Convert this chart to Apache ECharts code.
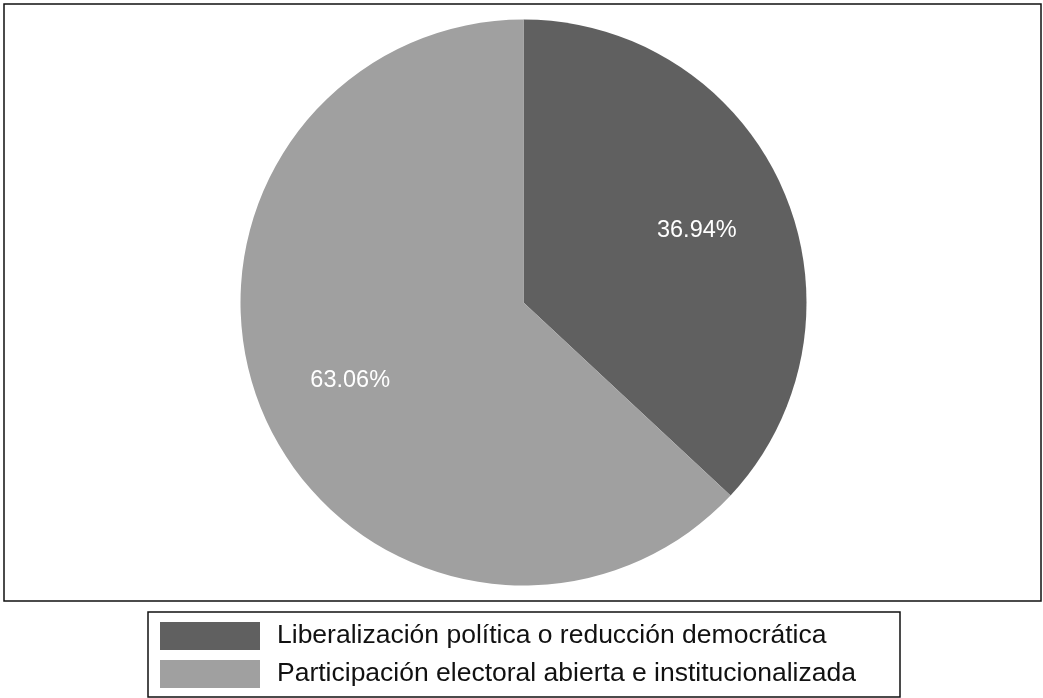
<!DOCTYPE html>
<html>
<head>
<meta charset="utf-8">
<script src="https://cdn.jsdelivr.net/npm/echarts@6/dist/echarts.min.js"></script>
<style>
  html, body { margin: 0; padding: 0; background: #fff; }
  #chart { width: 1043px; height: 698px; }
</style>
</head>
<body>
<div id="chart"></div>
<script>
// datos
const categories = [
    'Liberalización política o reducción democrática',
    'Participación electoral abierta e institucionalizada'
];
const values = [36.94, 63.06];
const colors = ['#606060', '#a0a0a0'];

let chartDom = document.getElementById('chart');
let myChart = echarts.init(chartDom);

let pieData = [];
for (let i = 0; i < categories.length; i++) {
    pieData.push({
        name: categories[i],
        value: values[i],
        itemStyle: { color: colors[i] }
    });
}

// serie invisible solo para colocar las etiquetas a 2/3 del radio
let labelData = [];
for (let i = 0; i < categories.length; i++) {
    labelData.push({ name: categories[i], value: values[i] });
}

let option = {
    animation: false,
    textStyle: {
        fontFamily: 'Liberation Sans'
    },
    graphic: [{
        type: 'rect',
        shape: { x: 4, y: 4, width: 1037, height: 597 },
        style: { fill: 'none', stroke: '#111', lineWidth: 1.5 },
        z: 0
    }, {
        type: 'rect',
        shape: { x: 148, y: 612, width: 752, height: 85 },
        style: { fill: 'none', stroke: '#111', lineWidth: 1.5 },
        z: 0
    }],
    legend: {
        orient: 'vertical',
        left: 148,
        top: 612,
        padding: [10, 12, 9, 12],
        itemWidth: 100,
        itemHeight: 28,
        itemGap: 10,
        icon: 'rect',
        selectedMode: false,
        data: categories,
        textStyle: {
            fontSize: 26.5,
            color: '#111',
            padding: [0, 0, 0, 12]
        }
    },
    series: [{
        name: 'pie',
        type: 'pie',
        center: [523.5, 302.5],
        radius: [0, 283],
        startAngle: 90,
        clockwise: true,
        label: { show: false },
        labelLine: { show: false },
        emphasis: { disabled: true },
        data: pieData
    }, {
        name: 'labels',
        type: 'pie',
        center: [523.5, 302.5],
        radius: [89, 283],
        startAngle: 90,
        clockwise: true,
        silent: true,
        legendHoverLink: false,
        itemStyle: { color: 'rgba(0,0,0,0)' },
        label: {
            show: true,
            position: 'inside',
            color: '#fff',
            fontSize: 23.5,
            offset: [0, 3],
            formatter: function (p) {
                return p.value.toFixed(2) + '%';
            }
        },
        labelLine: { show: false },
        emphasis: { disabled: true },
        data: labelData
    }]
};
option && myChart.setOption(option);
</script>
</body>
</html>
